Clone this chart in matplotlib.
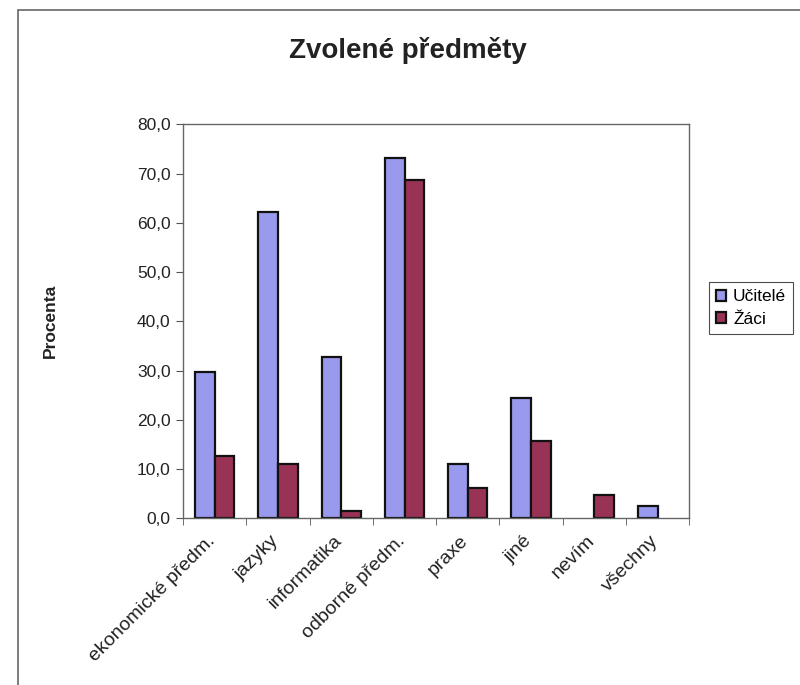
import numpy as np
import matplotlib.pyplot as plt
import matplotlib.transforms as mtransforms
from matplotlib.patches import Rectangle
from matplotlib.ticker import FuncFormatter

plt.rcParams['font.family'] = ['Liberation Sans', 'DejaVu Sans']

# data
categories = ['ekonomické předm.', 'jazyky', 'informatika', 'odborné předm.',
              'praxe', 'jiné', 'nevím', 'všechny']
ucitele = [29.8, 62.2, 32.8, 73.1, 11.0, 24.5, 0.0, 2.4]
zaci = [12.7, 11.0, 1.5, 68.7, 6.2, 15.7, 4.7, 0.0]

x = np.arange(len(categories))
bar_width = 0.31

fig = plt.figure(figsize=(8, 6.85), dpi=100)
ax = fig.add_axes([0.229, 0.2434, 0.6325, 0.5751])

b1 = ax.bar(x - bar_width / 2, ucitele, width=bar_width, color='#9999ee',
            edgecolor='#111111', linewidth=1.6, label='Učitelé')
b2 = ax.bar(x + bar_width / 2, zaci, width=bar_width, color='#993355',
            edgecolor='#111111', linewidth=1.6, label='Žáci')
# empty values: no bar drawn at all
for bars, vals in ((b1, ucitele), (b2, zaci)):
    for r, v in zip(bars, vals):
        if v == 0:
            r.set_visible(False)

ax.set_xlim(-0.5, len(categories) - 0.5)
ax.set_ylim(0, 80)
ax.set_yticks(np.arange(0, 81, 10))
ax.yaxis.set_major_formatter(FuncFormatter(lambda v, p: f'{v:.1f}'.replace('.', ',')))
ax.tick_params(axis='y', labelsize=12.5, direction='out', length=5, color='#555555',
               labelcolor='#222222', pad=4)

# category labels at centres, tick marks at group boundaries
ax.set_xticks(x)
ax.set_xticklabels(categories, rotation=45, ha='right', rotation_mode='anchor',
                   fontsize=14, color='#222222')
ax.tick_params(axis='x', which='major', length=0, pad=10)
shift = mtransforms.ScaledTranslation(-8 / 100, 0, fig.dpi_scale_trans)
for lab in ax.get_xticklabels():
    lab.set_transform(lab.get_transform() + shift)
ax.set_xticks(np.arange(-0.5, len(categories)), minor=True)
ax.tick_params(axis='x', which='minor', length=5, direction='out', color='#555555')

for s in ax.spines.values():
    s.set_color('#666666')
    s.set_linewidth(1.0)

fig.text(50 / 800, 0.531, 'Procenta', rotation=90, ha='center', va='center',
         fontsize=12.5, fontweight='bold', color='#222222')
fig.text(0.51, 0.927, 'Zvolené předměty', ha='center', va='center',
         fontsize=20, fontweight='bold', color='#222222')

leg = fig.legend(loc='upper left', bbox_to_anchor=(0.886, 0.588),
                 fontsize=12.5, frameon=True, fancybox=False, handlelength=0.6,
                 handleheight=0.6, handletextpad=0.4, borderpad=0.4,
                 labelspacing=0.45, borderaxespad=0)
leg.get_frame().set_edgecolor('#222222')
leg.get_frame().set_linewidth(0.8)

# outer chart frame
fig.patches.append(Rectangle((0.0225, -0.1), 2, 1.1 - 10 / 685, transform=fig.transFigure,
                             fill=False, edgecolor='#666666', linewidth=1.2))

plt.savefig('out.png')
